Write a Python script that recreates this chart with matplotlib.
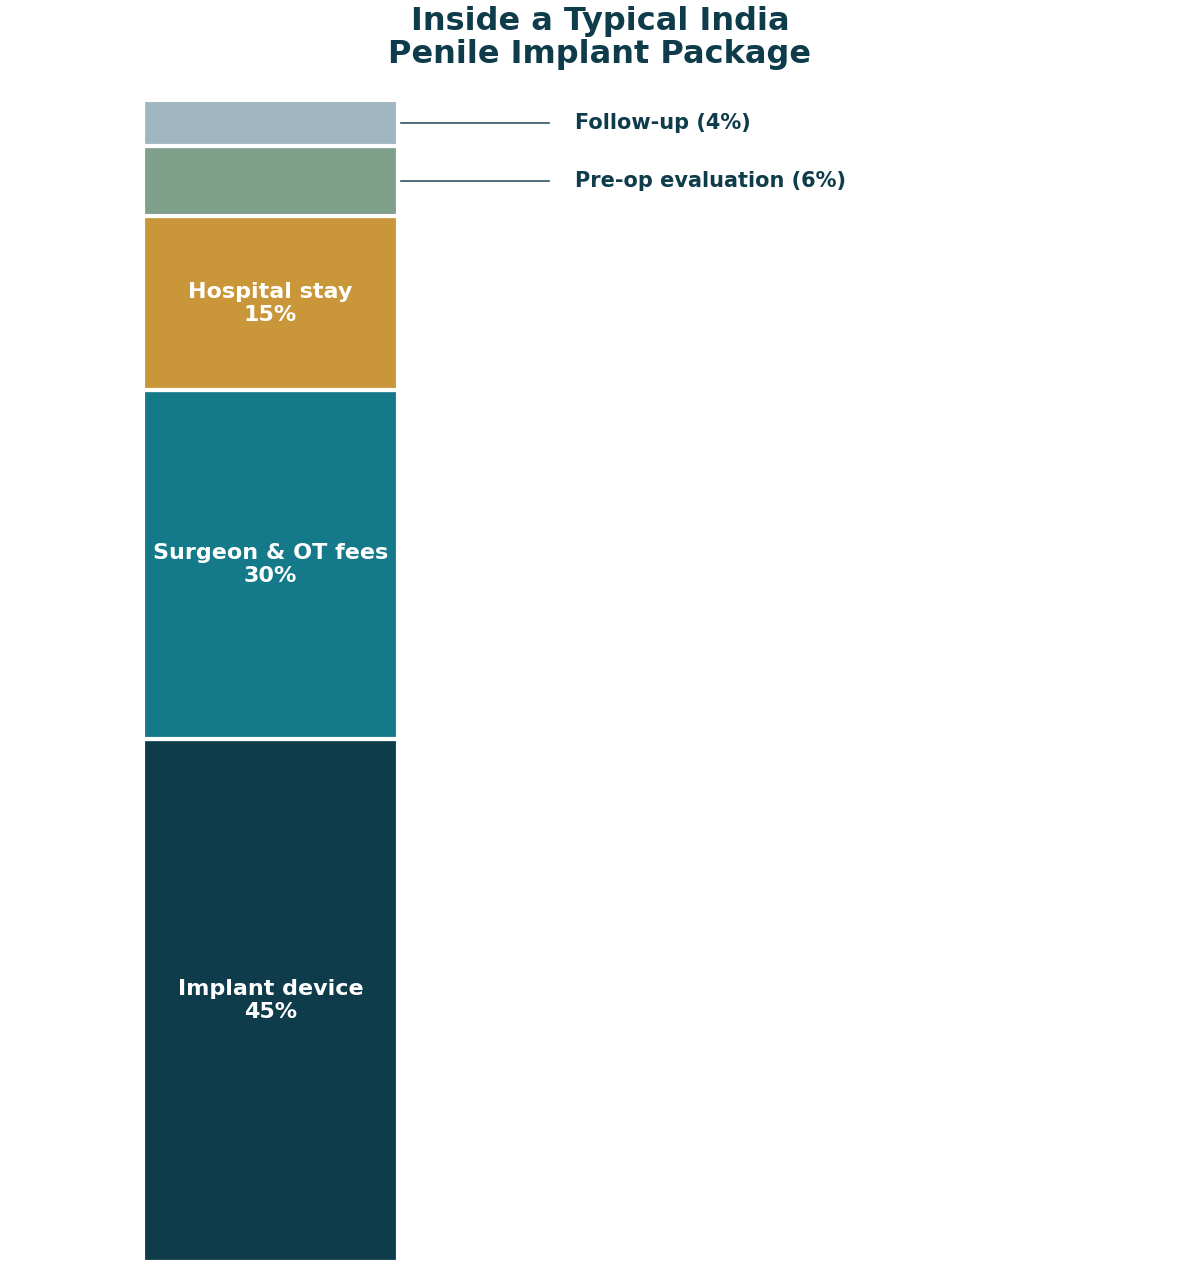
import matplotlib
matplotlib.use("Agg")
import matplotlib.pyplot as plt

categories = ["Implant device", "Surgeon & OT fees", "Hospital stay", "Pre-op evaluation", "Follow-up"]
shares = [45, 30, 15, 6, 4]
colors = ["#0f3c4b", "#147a8a", "#c9963a", "#7fa08b", "#a0b7c1"]
dark = "#0f3c4b"

fig = plt.figure(figsize=(12, 12.8), dpi=100)
ax = fig.add_axes([0, 18/1280, 1, 1162/1280])
ax.set_xlim(0, 12)
ax.set_ylim(0, 100)
ax.axis("off")

bottom = 0
for name, val, c in zip(categories, shares, colors):
    ax.bar(2.705, val, width=2.55, bottom=bottom, color=c, edgecolor="white", linewidth=3)
    mid = bottom + val / 2
    if val >= 10:
        ax.text(2.705, mid, f"{name}\n{val}%", ha="center", va="center",
                color="white", fontsize=16, fontweight="bold")
    else:
        ax.plot([4.01, 5.49], [mid, mid], color="#2f5561", linewidth=1.2)
        ax.text(5.75, mid, f"{name} ({val}%)", ha="left", va="center",
                color=dark, fontsize=15, fontweight="bold")
    bottom += val

fig.text(0.5, 0.9955, "Inside a Typical India\nPenile Implant Package", ha="center", va="top",
         color=dark, fontsize=23, fontweight="bold", linespacing=1.1)

fig.savefig("out.png", dpi=100)
